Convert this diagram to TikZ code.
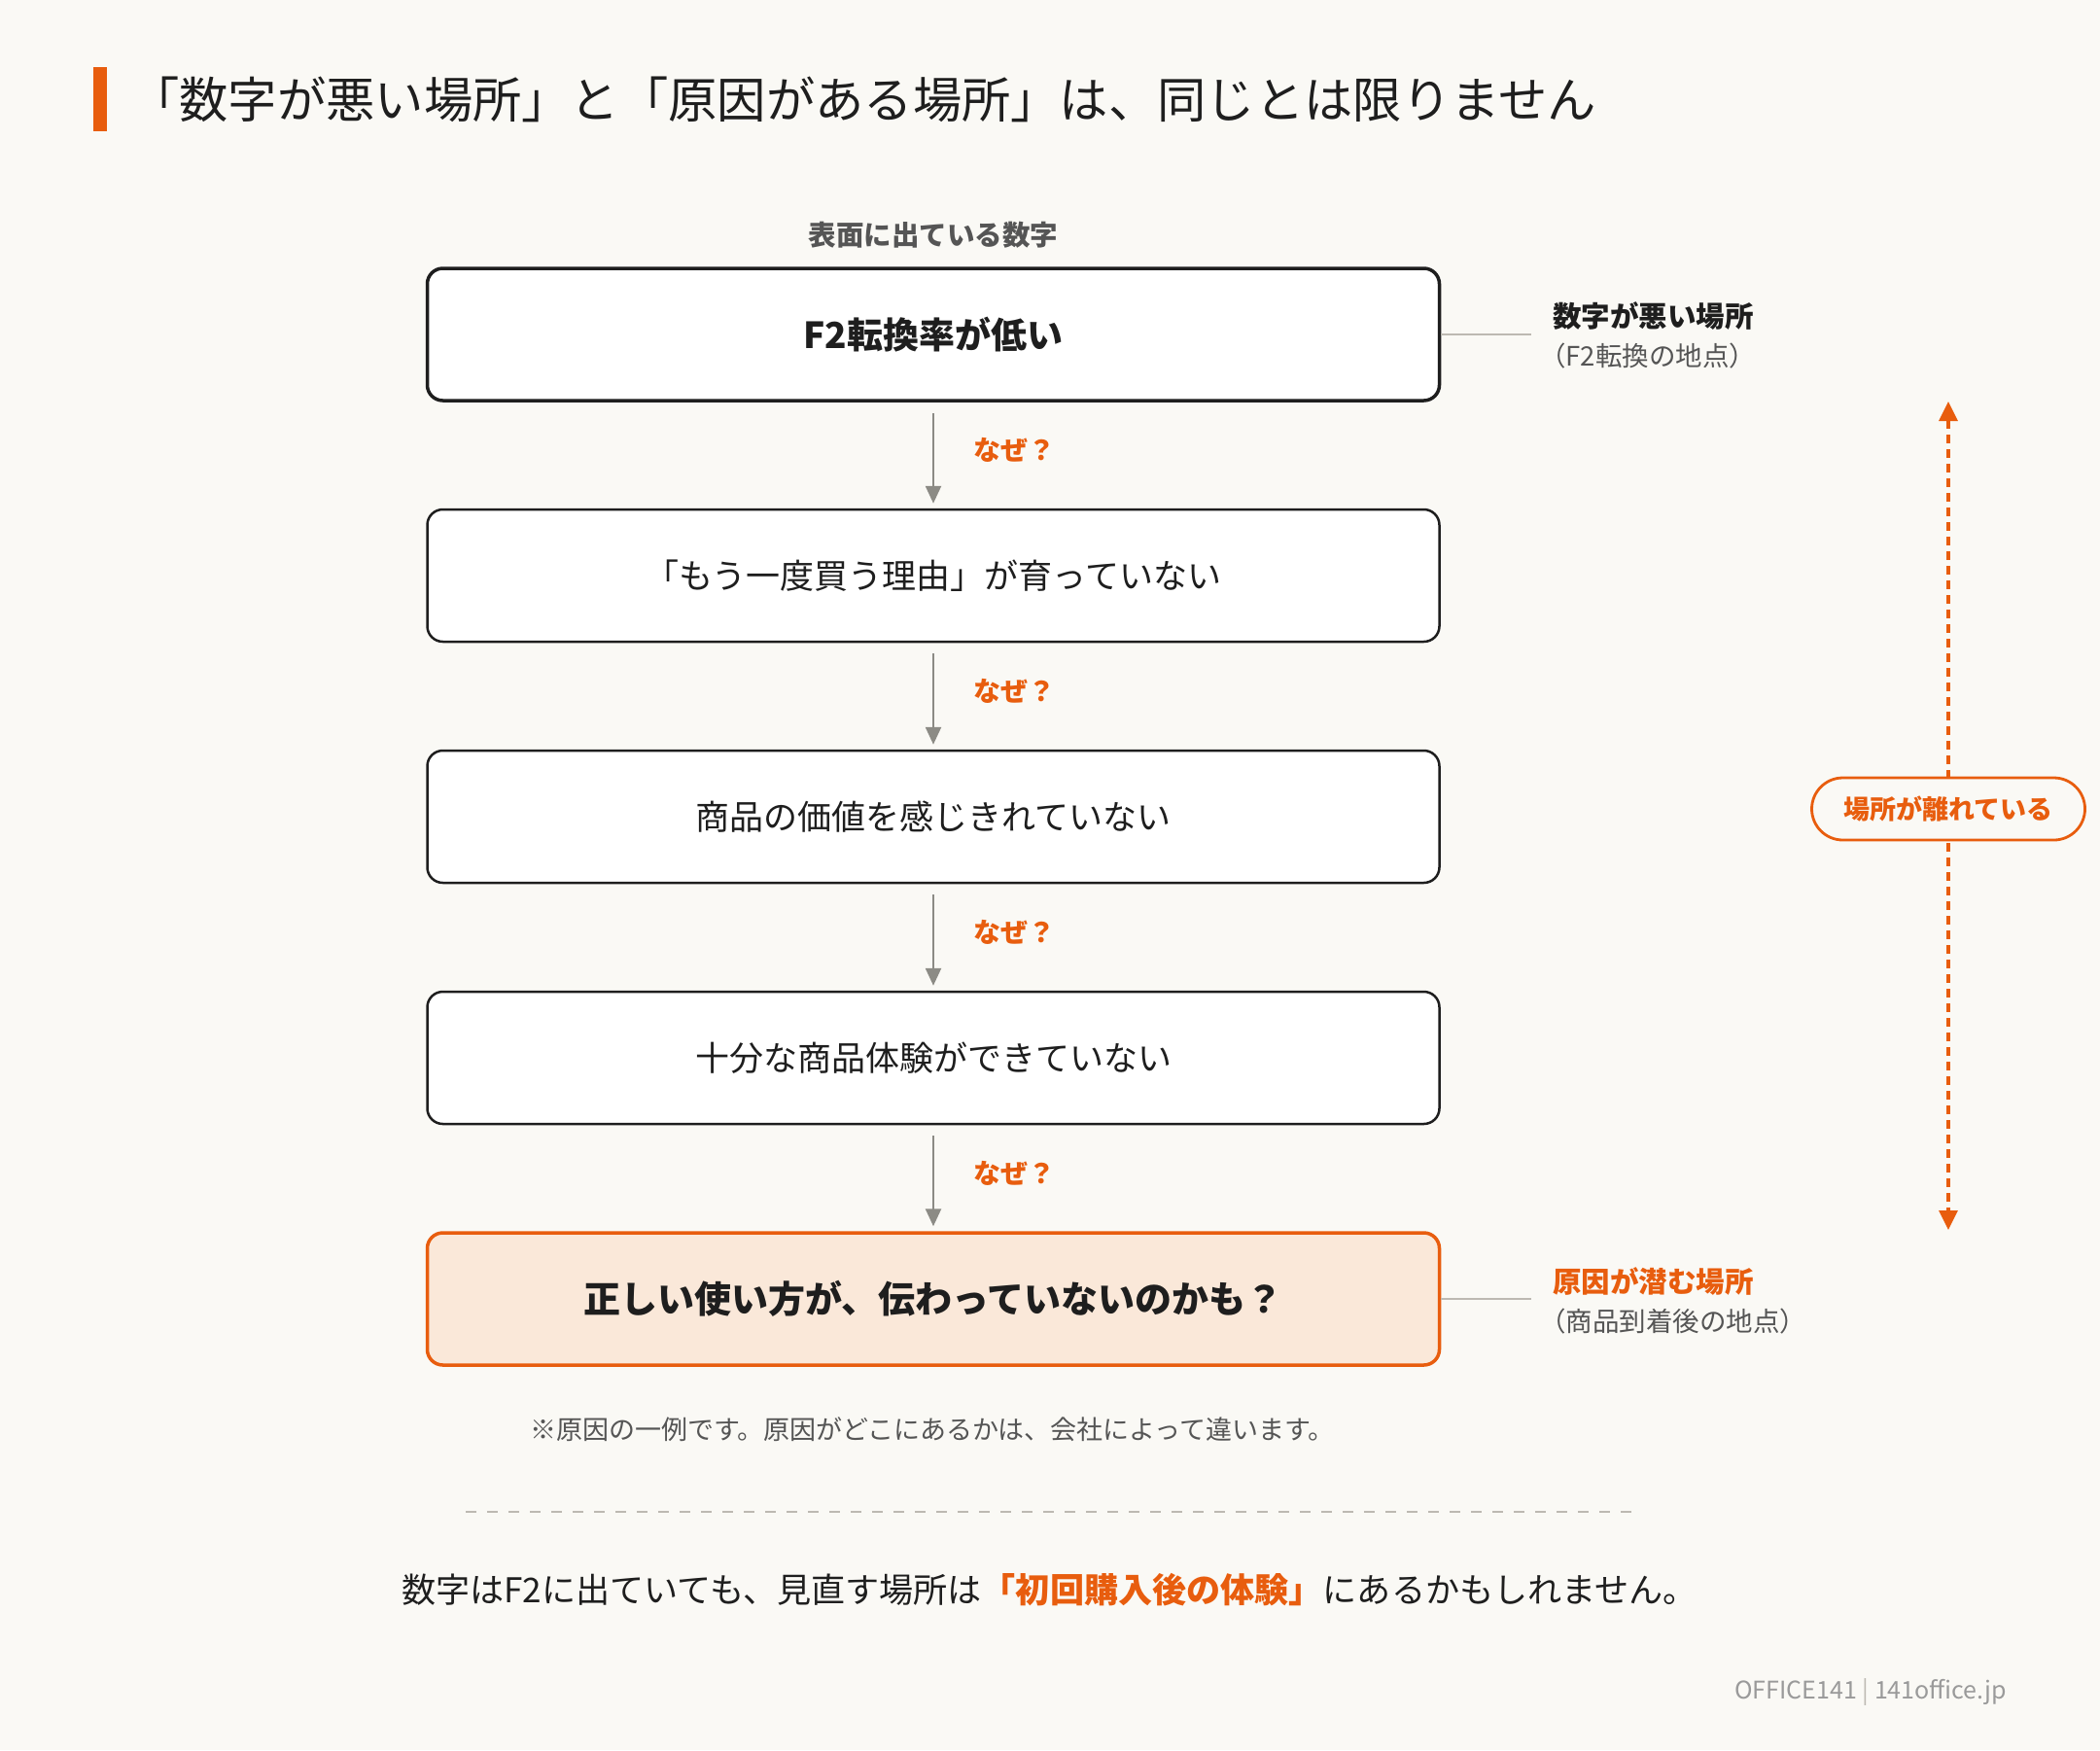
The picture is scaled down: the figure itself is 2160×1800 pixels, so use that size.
\documentclass[tikz,border=0pt]{standalone}
\usepackage{fontspec}
\setmainfont{Noto Sans CJK JP}
\usetikzlibrary{arrows.meta}
\definecolor{bgc}{HTML}{FAF9F5}
\definecolor{orng}{HTML}{E85D0E}
\definecolor{darkt}{HTML}{1E1E1E}
\definecolor{grayt}{HTML}{555555}
\definecolor{linegray}{HTML}{BDB9B2}
\definecolor{arrgray}{HTML}{8C8B85}
\definecolor{peach}{HTML}{FAE8D9}
\definecolor{footg}{HTML}{9A9A9A}
\newcommand{\fs}[1]{\fontsize{#1pt}{#1pt}\selectfont}
\tikzset{
  stepbox/.style={draw=darkt, line width=2.5pt, fill=white, rounded corners=16pt,
    minimum width=1041pt, minimum height=136pt, inner sep=0pt, text=darkt, font=\fs{35}},
  topbox/.style={stepbox, line width=3.5pt, font=\fs{37}\bfseries},
  causebox/.style={stepbox, draw=orng, fill=peach, line width=3.5pt, font=\fs{38}\bfseries},
  whyarrow/.style={draw=arrgray, line width=2.5pt, -{Triangle[length=18pt,width=16pt]},
    shorten <=11pt, shorten >=5pt},
  whylabel/.style={anchor=west, text=orng, font=\fs{28}\bfseries, inner sep=0pt},
  leader/.style={draw=linegray, line width=2.5pt},
  sidehead/.style={anchor=west, font=\fs{29.5}\bfseries, inner sep=0pt},
  sidesub/.style={anchor=west, text=grayt, font=\fs{27.5}, inner sep=0pt},
  plain/.style={inner sep=0pt}
}
\begin{document}
\begin{tikzpicture}[x=1pt,y=-1pt]
\useasboundingbox (0,0) rectangle (2160,1800);
\fill[bgc] (0,0) rectangle (2160,1800);
% title
\fill[orng] (96,69) rectangle (110,135);
\node[plain, anchor=west, text=darkt, font=\fs{50.3}] (title) at (134,102) {「数字が悪い場所」と「原因がある場所」は、同じとは限りません};
% header
\node[plain, text=grayt, font=\fs{28.5}\bfseries] (hdr) at (960,242) {表面に出ている数字};
% boxes
\node[topbox] (b1) at (960,344) {F2転換率が低い};
\node[stepbox] (b2) at (960,592) {「もう一度買う理由」が育っていない};
\node[stepbox] (b3) at (960,840) {商品の価値を感じきれていない};
\node[stepbox] (b4) at (960,1088) {十分な商品体験ができていない};
\node[causebox] (b5) at (960,1336) {正しい使い方が、伝わっていないのかも？};
% why arrows
\draw[whyarrow] (b1.south) -- (b2.north);
\draw[whyarrow] (b2.south) -- (b3.north);
\draw[whyarrow] (b3.south) -- (b4.north);
\draw[whyarrow] (b4.south) -- (b5.north);
\node[whylabel] (w1) at (1001,463) {なぜ？};
\node[whylabel] (w2) at (1001,711) {なぜ？};
\node[whylabel] (w3) at (1001,959) {なぜ？};
\node[whylabel] (w4) at (1001,1207) {なぜ？};
% side labels
\coordinate (l1) at (1575,344);
\draw[leader] (b1.east) -- (l1);
\node[sidehead, text=darkt] (s1) at (1597,325) {数字が悪い場所};
\node[sidesub] (s1b) at (1583,366) {（F2転換の地点）};
\coordinate (l5) at (1575,1336);
\draw[leader] (b5.east) -- (l5);
\node[sidehead, text=orng] (s5) at (1597,1318) {原因が潜む場所};
\node[sidesub] (s5b) at (1583,1359) {（商品到着後の地点）};
% distance arrow
\coordinate (dtop) at (2004,413);
\coordinate (dbot) at (2004,1265);
\draw[orng, line width=3.2pt, dash pattern=on 9pt off 6pt,
  {Triangle[length=20pt,width=19pt]}-{Triangle[length=20pt,width=19pt]}] (dtop) -- (dbot);
\node[draw=orng, line width=2.8pt, fill=bgc, rounded corners=32pt, minimum width=281pt,
  minimum height=64pt, inner sep=0pt, text=orng, font=\fs{27}\bfseries] (pill) at (2004,832) {場所が離れている};
% note
\node[plain, anchor=west, text=grayt, font=\fs{27}] (note) at (545,1470) {※原因の一例です。原因がどこにあるかは、会社によって違います。};
% separator
\coordinate (sepl) at (479,1555);
\coordinate (sepr) at (1678,1555);
\draw[linegray, line width=2.5pt, dash pattern=on 11pt off 11pt] (sepl) -- (sepr);
% conclusion
\node[plain, anchor=west, text=darkt, font=\fs{35.1}] (concl) at (413,1635) {数字はF2に出ていても、見直す場所は{\color{orng}\bfseries「初回購入後の体験」}にあるかもしれません。};
% footer
\node[plain, anchor=east, text=footg, font=\fs{25}] (foot) at (2064,1740) {OFFICE141 {\color{linegray}|} 141office.jp};
\end{tikzpicture}
\end{document}
